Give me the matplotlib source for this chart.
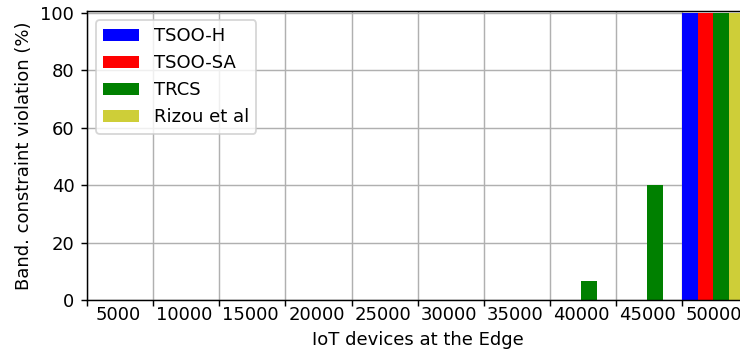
import numpy as np
import matplotlib
matplotlib.use("Agg")
import matplotlib.pyplot as plt

devices = ["5000", "10000", "15000", "20000", "25000",
           "30000", "35000", "40000", "45000", "50000"]
tsoo_h = [0, 0, 0, 0, 0, 0, 0, 0, 0, 100]
tsoo_sa = [0, 0, 0, 0, 0, 0, 0, 0, 0, 100]
trcs = [0, 0, 0, 0, 0, 0, 0, 6.5, 40, 100]
rizou = [0, 0, 0, 0, 0, 0, 0, 0, 0, 100]

series = [
    ("TSOO-H", tsoo_h, "blue"),
    ("TSOO-SA", tsoo_sa, "red"),
    ("TRCS", trcs, "green"),
    ("Rizou et al", rizou, "#cece38"),
]

w = 0.235
r = np.arange(len(devices))

DPI = 130
fig = plt.figure(figsize=(740 / DPI, 356 / DPI), dpi=DPI)
# the last group runs past the right edge of the canvas
ax = fig.add_axes([87 / 740, 56 / 356, 10 * 66.15 / 740, 289 / 356])

for i, (name, vals, col) in enumerate(series):
    ax.bar(r + i * w, vals, w, align="edge", color=col, label=name, zorder=2)

ax.set_xlim(0, 10)
ax.set_ylim(0, 100.7)
ax.set_xticks(r)
ax.set_xticklabels([])
ax.set_xticks(r + 2 * w, minor=True)
ax.set_xticklabels(devices, minor=True)
ax.tick_params(axis="x", which="minor", length=0)
ax.grid(True, which="major", color="#b0b0b0", lw=0.8, zorder=0)
ax.set_axisbelow(True)
ax.set_xlabel("IoT devices at the Edge")
ax.set_ylabel("Band. constraint violation (%)")
ax.legend(loc="upper left")

fig.savefig("out.png", dpi=DPI)
